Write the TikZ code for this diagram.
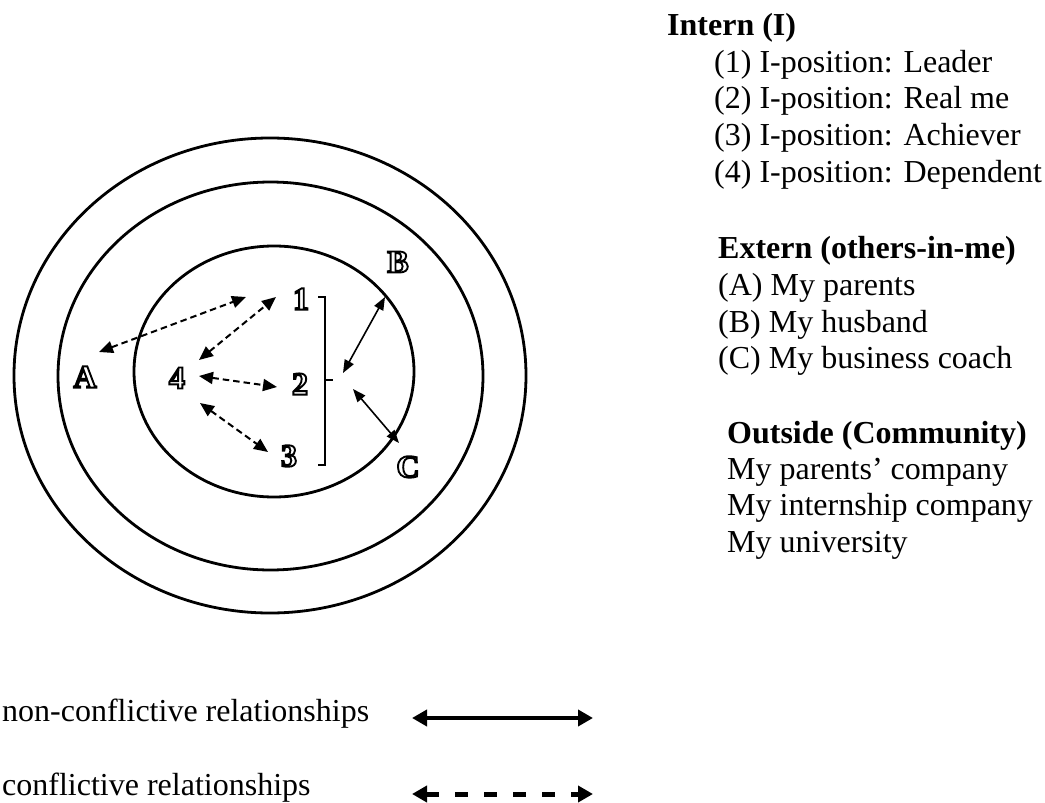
\documentclass[tikz,border=0pt]{standalone}
\usepackage{fontspec}
\setmainfont{Liberation Serif}
\usetikzlibrary{arrows.meta}

% outlined (stroked, unfilled) letter: PDF text rendering mode 1
\newcommand\hollowglyph[1]{%
  \special{pdf:code 1 Tr 1.9 w}#1\special{pdf:code 0 Tr}}

\tikzset{
  ring/.style={line width=2.8pt},
  letter/.style={font=\fontsize{32}{33}\selectfont\bfseries, inner sep=0pt},
  txt/.style={font=\fontsize{32}{37}\selectfont, anchor=base west, inner sep=0pt},
  head/.style={txt, font=\fontsize{32}{37}\selectfont\bfseries},
  conf/.style={line width=2pt, dash pattern=on 6.5pt off 4pt,
    {Triangle[length=14pt,width=12pt]}-{Triangle[length=14pt,width=12pt]}},
  nonconf/.style={line width=1.6pt,
    {Triangle[length=13pt,width=10pt]}-{Triangle[length=13pt,width=10pt]}},
  legsolid/.style={line width=4.5pt,
    {Triangle[length=15pt,width=16pt]}-{Triangle[length=15pt,width=16pt]}},
  legdash/.style={line width=5pt, dash pattern=on 13pt off 16pt,
    {Triangle[length=15pt,width=16pt]}-{Triangle[length=15pt,width=16pt]}},
}

\begin{document}
\begin{tikzpicture}[x=1pt, y=-1pt]
\useasboundingbox (0,0) rectangle (1045,803);

% the three rings: community, others-in-me, I-positions
\draw[ring] (270,375.5) ellipse [x radius=256, y radius=237.5];
\draw[ring] (270.5,376) ellipse [x radius=212.5, y radius=194];
\draw[ring] (274,371.5) ellipse [x radius=140, y radius=125.5];

% positions
\node[letter] (lA) at (85,377) {\hollowglyph{A}};
\node[letter] (l4) at (177,378) {\hollowglyph{4}};
\node[letter] (l1) at (301,299) {\hollowglyph{1}};
\node[letter] (l2) at (300,384) {\hollowglyph{2}};
\node[letter] (l3) at (289,456) {\hollowglyph{3}};
\node[letter] (lB) at (398,262) {\hollowglyph{B}};
\node[letter] (lC) at (408,467) {\hollowglyph{C}};

% bracket grouping the I-positions
\draw[line width=1.5pt] (318,297) -- (325,297) -- (325,465) -- (318,465);
\draw[line width=1.5pt] (325,380) -- (333,380) coordinate (brk);

% conflictive relationships
\draw[conf] ([shift={(14,-25)}]lA.center) -- ([shift={(-55,-2)}]l1.center);
\draw[conf] ([shift={(22,-18)}]l4.center) -- ([shift={(-25,-2)}]l1.center);
\draw[conf] ([shift={(22,-2)}]l4.center) -- ([shift={(-23,3)}]l2.center);
\draw[conf] ([shift={(23,25)}]l4.center) -- ([shift={(-21,-4)}]l3.center);

% non-conflictive relationships
\draw[nonconf] ([shift={(-13,35)}]lB.center) -- ([shift={(10,-7)}]brk);
\draw[nonconf] ([shift={(20,9)}]brk) -- ([shift={(-9,-24)}]lC.center);

% key
\node[head] (hI) at (667,35) {Intern (I)};
\node[txt] (i1) at (714,72) {(1) I-position: Leader};
\node[txt] (i2) at (714,108) {(2) I-position: Real me};
\node[txt] (i3) at (714,145) {(3) I-position: Achiever};
\node[txt] (i4) at (714,182) {(4) I-position: Dependent};

\node[head] (hE) at (718,258) {Extern (others-in-me)};
\node[txt] (eA) at (718,295) {(A) My parents};
\node[txt] (eB) at (718,332) {(B) My husband};
\node[txt] (eC) at (718,368) {(C) My business coach};

\node[head] (hO) at (727,443) {Outside (Community)};
\node[txt] (o1) at (727,479) {My parents’ company};
\node[txt] (o2) at (727,515) {My internship company};
\node[txt] (o3) at (727,552) {My university};

% legend
\node[txt] (kn) at (2,721) {non-conflictive relationships};
\node[txt] (kc) at (2,795) {conflictive relationships};
\coordinate (ks1) at (412,718);
\coordinate (ks2) at (593,718);
\coordinate (kd1) at (412,794);
\coordinate (kd2) at (593,794);
\draw[legsolid] (ks1) -- (ks2);
\draw[legdash] (kd1) -- (kd2);
\end{tikzpicture}
\end{document}
